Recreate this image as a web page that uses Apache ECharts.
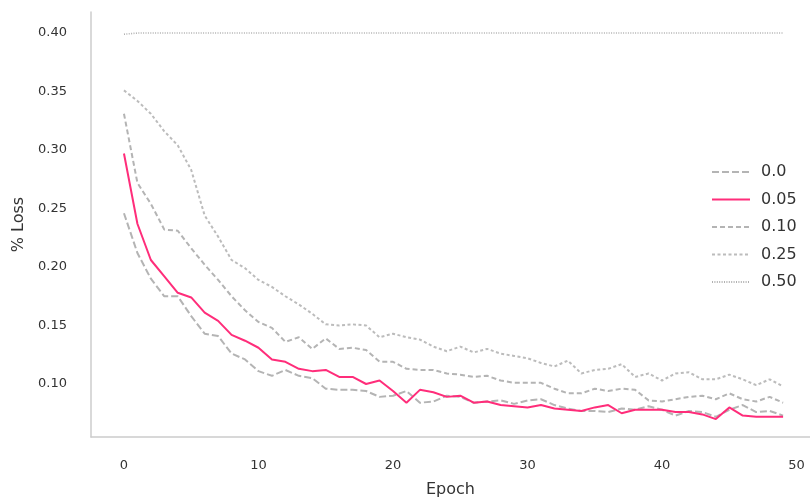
<!DOCTYPE html>
<html>
<head>
<meta charset="utf-8">
<script src="https://cdn.jsdelivr.net/npm/echarts@6/dist/echarts.min.js"></script>
<style>
html,body{margin:0;padding:0;background:#fff;}
#chart{width:810px;height:497px;}
</style>
</head>
<body>
<div id="chart"></div>
<script>
const epochs = [0,1,2,3,4,5,6,7,8,9,10,11,12,13,14,15,16,17,18,19,20,21,22,23,24,25,26,27,28,29,30,31,32,33,34,35,36,37,38,39,40,41,42,43,44,45,46,47,48,49];

const seriesNames = ['0.0', '0.05', '0.10', '0.25', '0.50'];

const loss00 = [0.246,0.212,0.190,0.175,0.175,0.158,0.143,0.141,0.126,0.121,0.111,0.107,0.112,0.107,0.105,0.096,0.095,0.095,0.094,0.089,0.090,0.094,0.084,0.085,0.090,0.089,0.084,0.085,0.086,0.083,0.086,0.087,0.082,0.079,0.077,0.077,0.076,0.079,0.078,0.081,0.078,0.073,0.077,0.076,0.072,0.078,0.082,0.076,0.077,0.073];

const loss005 = [0.297,0.237,0.206,0.192,0.178,0.174,0.161,0.154,0.142,0.137,0.131,0.121,0.119,0.113,0.111,0.112,0.106,0.106,0.100,0.103,0.094,0.084,0.095,0.093,0.089,0.090,0.084,0.085,0.082,0.081,0.080,0.082,0.079,0.078,0.077,0.080,0.082,0.075,0.078,0.078,0.078,0.076,0.076,0.074,0.070,0.080,0.073,0.072,0.072,0.072];

const loss010 = [0.331,0.272,0.254,0.232,0.231,0.216,0.202,0.189,0.175,0.163,0.153,0.148,0.136,0.140,0.130,0.139,0.130,0.131,0.129,0.119,0.119,0.113,0.112,0.112,0.109,0.108,0.106,0.107,0.103,0.101,0.101,0.101,0.096,0.092,0.092,0.096,0.094,0.096,0.095,0.086,0.085,0.087,0.089,0.090,0.087,0.092,0.087,0.085,0.089,0.084];

const loss025 = [0.351,0.342,0.331,0.316,0.304,0.283,0.244,0.226,0.206,0.199,0.189,0.183,0.175,0.168,0.160,0.151,0.150,0.151,0.150,0.140,0.143,0.140,0.138,0.132,0.128,0.132,0.127,0.130,0.126,0.124,0.122,0.118,0.115,0.120,0.109,0.112,0.113,0.117,0.106,0.109,0.103,0.109,0.110,0.104,0.104,0.108,0.104,0.099,0.104,0.098];

const loss050 = [0.399,0.400,0.400,0.400,0.400,0.400,0.400,0.400,0.400,0.400,0.400,0.400,0.400,0.400,0.400,0.400,0.400,0.400,0.400,0.400,0.400,0.400,0.400,0.400,0.400,0.400,0.400,0.400,0.400,0.400,0.400,0.400,0.400,0.400,0.400,0.400,0.400,0.400,0.400,0.400,0.400,0.400,0.400,0.400,0.400,0.400,0.400,0.400,0.400,0.400];

const xTicks = [0, 10, 20, 30, 40, 50];
const yTicks = [0.10, 0.15, 0.20, 0.25, 0.30, 0.35, 0.40];

const values = [loss00, loss005, loss010, loss025, loss050];
const styles = [
  {color: '#b4b4b4', width: 2, type: [7, 3]},
  {color: '#ff2d7a', width: 2, type: 'solid'},
  {color: '#b4b4b4', width: 2, type: [5, 3]},
  {color: '#bcbcbc', width: 2, type: [3, 2.5]},
  {color: '#b0b0b0', width: 1.6, type: [1, 1.4]}
];

const chart = echarts.init(document.getElementById('chart'), null, {renderer: 'canvas'});
const series = seriesNames.map((name, k) => ({
  name: name,
  type: 'line',
  symbol: 'none',
  showSymbol: false,
  animation: false,
  lineStyle: styles[k],
  itemStyle: {color: styles[k].color},
  data: epochs.map((e, i) => [e, values[k][i]])
}));

chart.setOption({
  animation: false,
  backgroundColor: '#ffffff',
  textStyle: {fontFamily: 'DejaVu Sans'},
  grid: {left: 91, right: 0, top: 12, bottom: 60, containLabel: false, outerBoundsMode: 'none'},
  legend: {
    orient: 'vertical',
    left: 706,
    top: 159,
    itemWidth: 38,
    itemHeight: 14,
    itemGap: 11.5,
    data: seriesNames,
    itemStyle: {opacity: 0},
    textStyle: {fontSize: 16, color: '#333333', fontFamily: 'DejaVu Sans', padding: [0,0,0,6]},
    selectedMode: false
  },
  xAxis: {
    type: 'value',
    min: -2.45,
    max: 51.0,
    name: 'Epoch',
    nameLocation: 'middle',
    nameGap: 45,
    nameTextStyle: {fontSize: 16, color: '#333333'},
    axisLine: {show: true, onZero: false, lineStyle: {color: '#cccccc', width: 1.5}},
    axisTick: {show: false},
    splitLine: {show: false},
    axisLabel: {customValues: xTicks, fontSize: 13, color: '#333333', margin: 22}
  },
  yAxis: {
    type: 'value',
    min: 0.0547,
    max: 0.418,
    name: '% Loss',
    nameLocation: 'middle',
    nameGap: 61,
    nameRotate: 90,
    nameTextStyle: {fontSize: 16, color: '#333333'},
    axisLine: {show: true, onZero: false, lineStyle: {color: '#cccccc', width: 1.5}},
    axisTick: {show: false},
    splitLine: {show: false},
    axisLabel: {customValues: yTicks, fontSize: 13, color: '#333333', margin: 24,
      formatter: v => v.toFixed(2)}
  },
  series: series
});
</script>
</body>
</html>
